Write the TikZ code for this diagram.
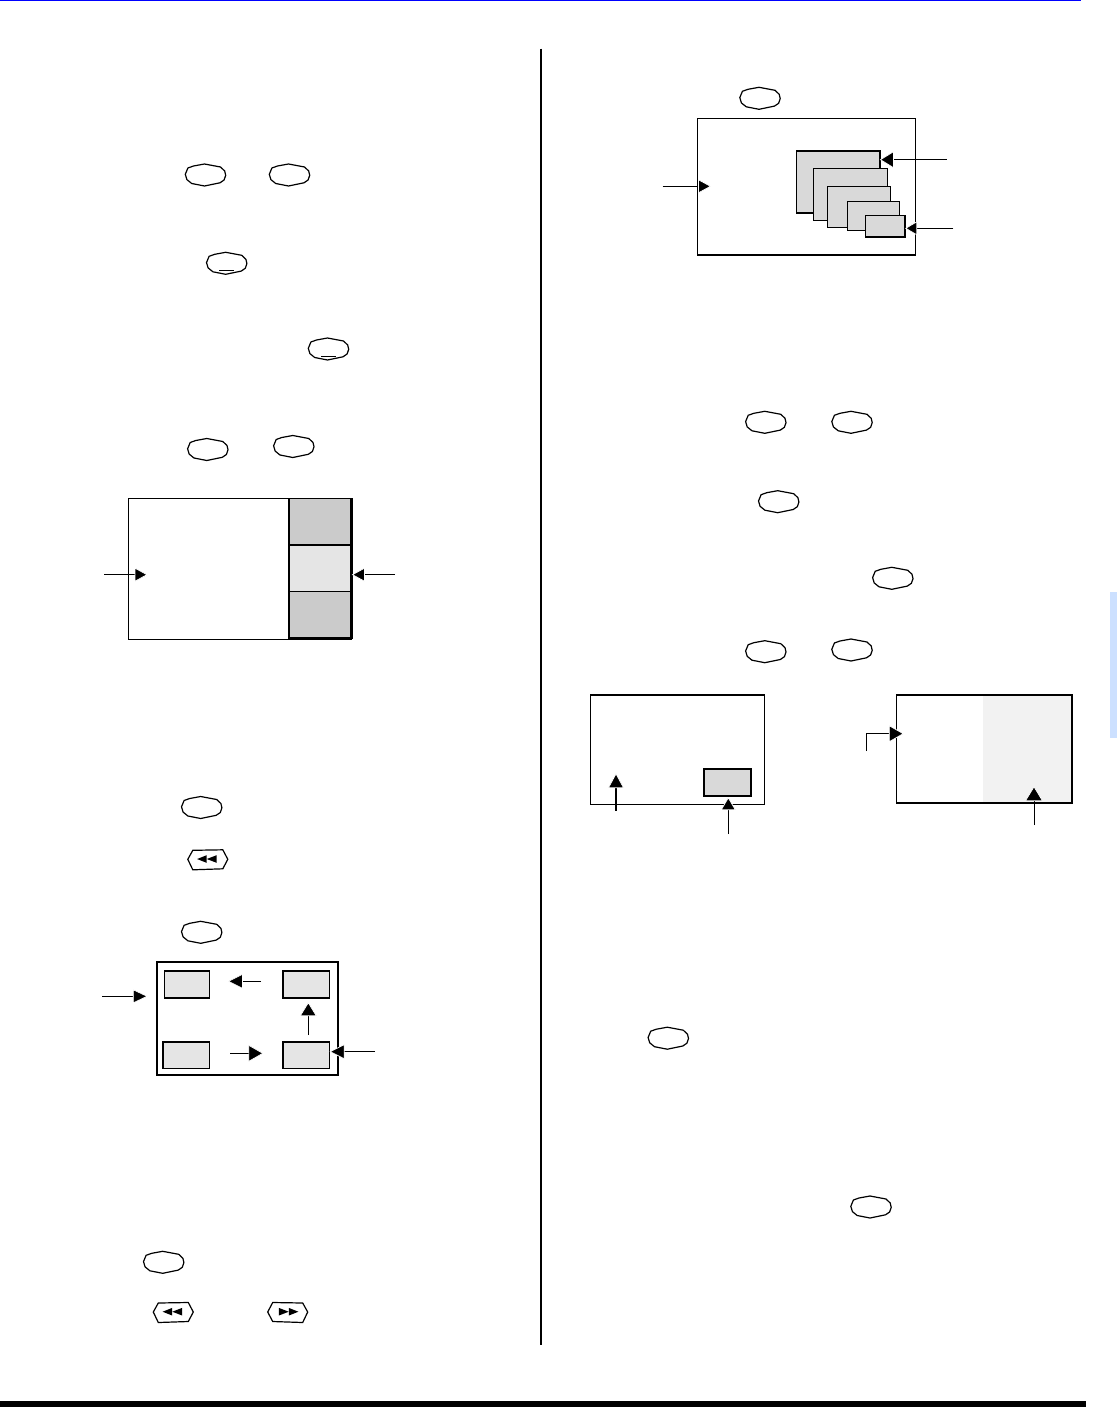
\documentclass[tikz,border=0pt]{standalone}
\usepackage{tikz}
\usetikzlibrary{arrows.meta}

\definecolor{cellgray}{HTML}{CBCBCB}
\definecolor{celllight}{HTML}{E5E5E5}
\definecolor{pipgray}{HTML}{D9D9D9}
\definecolor{splitgray}{HTML}{F2F2F2}
\definecolor{tabblue}{HTML}{CCE0FF}

\begin{document}
\begin{tikzpicture}[
    x=1pt, y=-1pt,
    ptr/.style 2 args={shorten >=-1.2pt, -{Triangle[length=#1pt+2pt,width=#2pt+2pt,fill=black,color=white,line width=0.7pt]}},
    frame/.style={draw=black, line width=#1},
    button/.pic={
        \draw[line width=1.2pt, fill=white] (-20.2,-0.7) -- (-17.6,-7) -- (-12,-9) -- (-1,-11) -- (15,-8)
            -- (19.2,-4) -- (20.2,0.3) -- (18.6,5) -- (14.5,7.8) -- (-1,11) -- (-13.8,8.5) -- (-18.6,4.6) -- cycle;
    },
    minusbutton/.pic={
        \pic {button};
        \draw[line width=0.8pt] (-7.5,7) -- (7.5,7);%underline
    },
    skipbutton/.pic={
        \draw[line width=1.2pt, fill=white] (-20,-0.5) -- (-15,-9.5) -- (15,-10) -- (20,-0.5) -- (15,9) -- (-15,10) -- cycle;
        \fill (-10.7,-0.8) -- (-1.2,-4.6) -- (-1.2,3) -- cycle;
        \fill (-1,-0.8) -- (8.8,-4.6) -- (8.8,3) -- cycle;
    }
]
    \useasboundingbox (0,0) rectangle (1117,1407);

    % page furniture
    \draw[blue, line width=1.3pt] (0,0.6) -- (1081,0.6);
    \fill[black] (0,1400.7) rectangle (1086,1407);
    \draw[line width=2pt] (540.7,48.7) -- (540.7,1345);
    \fill[tabblue] (1110,592) rectangle (1117,737.7);

    % remote buttons
    \foreach \x/\y in {205.5/175, 289.5/175, 207.8/449.5, 293.8/446.5, 201.7/807.5, 201.7/932.3,
        163.7/1262.3, 760/98.3, 765.8/422.3, 852/422.3, 778.7/501.7, 892.8/578.3,
        765.8/651.7, 852/650, 668.3/1038.2, 871/1207}{
        \pic at (\x,\y) {button};
    }
    \pic at (226.7,263.3) {minusbutton};
    \pic at (328.5,349) {minusbutton};
    \pic at (207.8,859.8) {skipbutton};
    \pic at (173.3,1312.5) {skipbutton};
    \pic[xscale=-1] at (287.7,1312.5) {skipbutton};

    % side bar screen
    \draw[frame=1pt] (128.8,498.6) rectangle (351,639);
    \fill[cellgray] (289,499) rectangle (351,545);
    \fill[celllight] (289,545) rectangle (351,591);
    \fill[cellgray] (289,591) rectangle (351,638);
    \draw[line width=2pt] (289,498.1) -- (289,639);
    \draw[line width=2pt] (289,545) -- (351,545);
    \draw[line width=1pt] (289,591) -- (351,591);
    \draw[line width=2pt] (288,638.3) -- (352,638.3);
    \draw[line width=2.8pt] (351.4,498.1) -- (351.4,639.3);

    % four corner screen
    \draw[frame=2pt] (157.3,962.4) rectangle (338,1075.4);
    \foreach \a/\b/\c/\d in {164.7/971/209.5/998, 283/971/329.3/998, 163/1042/209.5/1068.5, 283/1042/329.3/1068.5}{
        \draw[frame=1.4pt, fill=celllight] (\a,\b) rectangle (\c,\d);
    }

    % stacked screen
    \draw[frame=1.5pt] (697.3,118.3) rectangle (915.7,254.8);
    \foreach \a/\b/\c/\d/\lw in {796.4/151.2/880/212.6/1.8, 813.2/168.6/887.2/220.5/1.2, 827.8/186.6/890.2/227.8/1,
        847.3/201.7/899.2/230.8/1.2, 865.4/215.5/905/236.7/1.6}{
        \draw[frame=\lw pt, fill=pipgray] (\a,\b) rectangle (\c,\d);
    }

    % corner window screen
    \draw[frame=1pt] (590.8,695) rectangle (764.2,804.2);
    \draw[line width=2pt] (590.3,695.4) -- (764.7,695.4);
    \draw[frame=2pt, fill=pipgray] (703.6,769) rectangle (750.8,796.4);

    % half shaded screen
    \fill[splitgray] (983,695) rectangle (1072,803);
    \draw[line width=1pt] (896.8,694.7) -- (896.8,803.3);
    \draw[line width=2pt] (896.3,695.4) -- (1071.9,695.4) -- (1071.9,802.6) -- (896.3,802.6);

    % pointers
    \foreach \name/\sx/\sy/\ex/\ey/\len/\wid/\lw in {
        sideIn/104/574.7/146.5/574.7/11/12/1.5,
        sideCell/395/574.7/353/574.7/11/12/1.5,
        quadIn/102/996.3/146.7/996.3/13/12/0.9,
        quadTop/261/981.3/229/981.3/13/13/0.9,
        quadUp/308.3/1035/308.3/1003.3/12/15/0.9,
        quadBot/230/1053.3/262.3/1053.3/13/15/0.9,
        quadOut/375/1051.7/330.7/1051.7/13/13/1.5,
        stackTop/946.7/159.7/881/159.7/12/15/0.9,
        stackIn/662.7/186.3/710/186.3/11/12/0.9,
        stackEnd/953.3/228.3/906.3/228.3/10/12/0.9,
        cornerA/616/810.7/616/774.3/13/14/1.6,
        cornerB/728.3/834/728.3/798.3/11/13/0.9,
        halfB/1034/825/1034/787.3/13/16/0.9}{
        \coordinate (\name S) at (\sx,\sy);
        \coordinate (\name E) at (\ex,\ey);
        \draw[ptr={\len}{\wid}, line width=\lw pt] (\name S) -- (\name E);
    }
    \coordinate (halfAS) at (866.3,751);
    \coordinate (halfAE) at (902.7,733.7);
    \draw[ptr={13}{15}, line width=1.4pt] (halfAS) |- (halfAE);
\end{tikzpicture}
\end{document}
